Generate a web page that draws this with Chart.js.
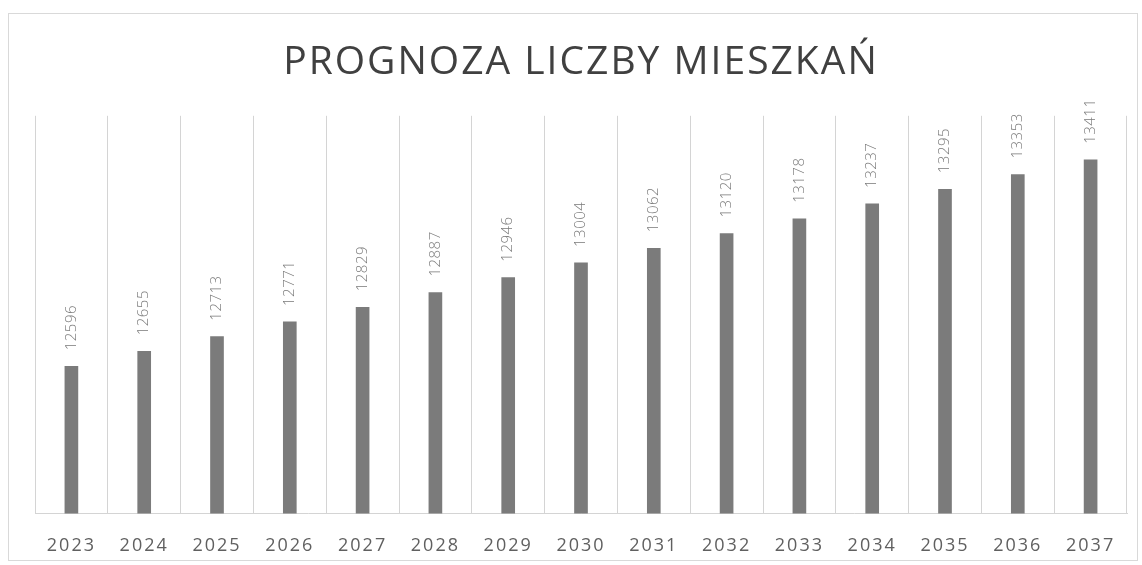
<!DOCTYPE html>
<html>
<head>
<meta charset="utf-8">
<script src="https://cdn.jsdelivr.net/npm/chart.js@4"></script>
<style>
html,body{margin:0;padding:0;background:#fff;}
#wrap{position:relative;width:1142px;height:565px;}
#frame{position:absolute;left:8px;top:13px;width:1128px;height:546px;border:1px solid #d9d9d9;pointer-events:none;}
canvas{position:absolute;left:0;top:0;}
</style>
</head>
<body>
<div id="wrap"><canvas id="c" width="1142" height="565"></canvas><div id="frame"></div></div>
<script>
const titleText = "PROGNOZA LICZBY MIESZKAŃ";
const years = ["2023","2024","2025","2026","2027","2028","2029","2030","2031","2032","2033","2034","2035","2036","2037"];
const residents = [12596,12655,12713,12771,12829,12887,12946,13004,13062,13120,13178,13237,13295,13353,13411];

const rotatedLabels = {
  id: 'rotatedLabels',
  afterDatasetsDraw(chart) {
    const ctx = chart.ctx;
    const meta = chart.getDatasetMeta(0);
    ctx.save();
    ctx.font = '300 15px "Open Sans", sans-serif';
    ctx.fillStyle = '#7a7a7a';
    ctx.letterSpacing = '0.5px';
    ctx.textAlign = 'left';
    ctx.textBaseline = 'middle';
    meta.data.forEach((bar, i) => {
      ctx.save();
      ctx.translate(bar.x, bar.y - 16);
      ctx.rotate(-Math.PI / 2);
      ctx.fillText(String(residents[i]), 0, 0);
      ctx.restore();
    });
    ctx.restore();
  }
};

const spacing = {
  id: 'spacing',
  beforeDraw(chart) { chart.ctx.letterSpacing = '2px'; }
};

new Chart(document.getElementById('c'), {
  type: 'bar',
  data: {
    labels: years,
    datasets: [{
      data: residents,
      backgroundColor: '#7b7b7b',
      borderWidth: 0,
      barThickness: 13
    }]
  },
  options: {
    responsive: false,
    animation: false,
    layout: { padding: { left: 35, right: 15, top: 0, bottom: -14 } },
    plugins: {
      legend: { display: false },
      tooltip: { enabled: false },
      title: {
        display: true,
        text: titleText,
        color: '#404040',
        font: { family: '"Open Sans", sans-serif', size: 39, weight: '400', lineHeight: 1.2 },
        padding: { top: 39, bottom: 30 }
      }
    },
    scales: {
      x: {
        offset: true,
        grid: { display: true, offset: true, color: '#d4d4d4', lineWidth: 1, drawTicks: false },
        border: { display: true, color: '#d4d4d4' },
        ticks: { color: '#606060', padding: 22, maxRotation: 0, font: { family: '"Open Sans", sans-serif', size: 18 } }
      },
      y: {
        display: false,
        min: 12015,
        max: 13585
      }
    }
  },
  plugins: [spacing, rotatedLabels]
});
</script>
</body>
</html>
